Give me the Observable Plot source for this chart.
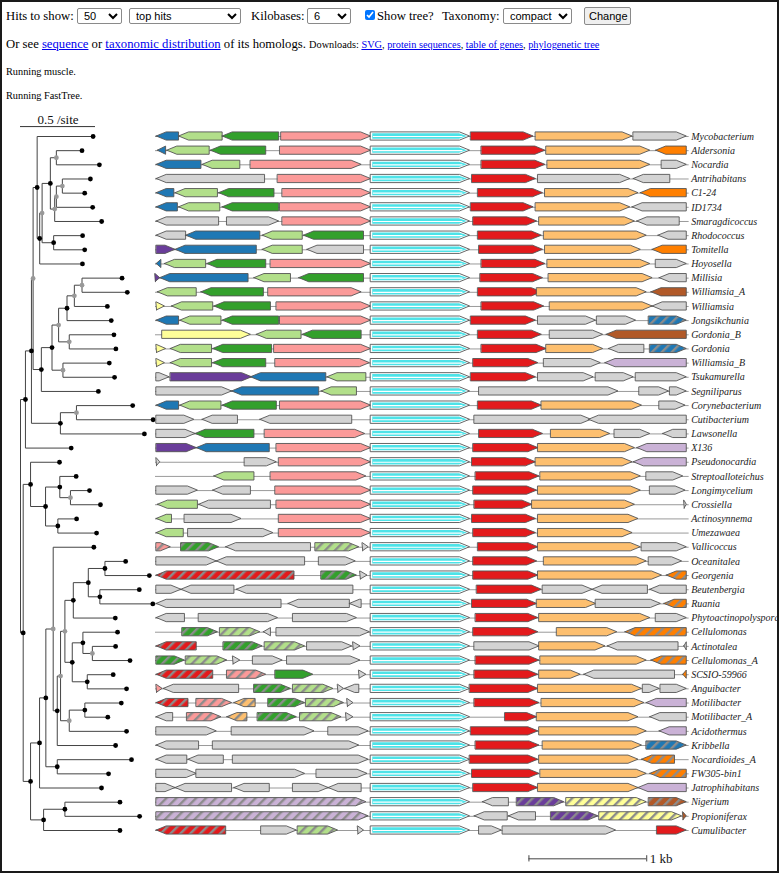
<!DOCTYPE html>
<html><head><meta charset="utf-8">
<script src="https://cdn.jsdelivr.net/npm/d3@7"></script>
<script src="https://cdn.jsdelivr.net/npm/@observablehq/plot@0.6"></script>
<style>
body{margin:0;background:#fff;}
#page{position:relative;width:779px;height:873px;overflow:hidden;font-family:"Liberation Serif","Times New Roman",serif;color:#000;background:#fff;}
#frame{position:absolute;left:0;top:0;width:779px;height:873px;box-sizing:border-box;border:2px solid #1a1a1a;pointer-events:none;z-index:5;}
.t{position:absolute;white-space:nowrap;font-size:12.7px;line-height:16px;}
.s{font-size:10.3px;}
a{color:#0000ee;text-decoration:underline;}
select,button{position:absolute;font-family:"Liberation Sans",Arial,sans-serif;font-size:11px;box-sizing:border-box;margin:0;padding:0 2px;background:#fff;border:1px solid #8a8a8a;border-radius:2px;color:#000;}
button{background:#efefef;border:1px solid #8a8a8a;padding:0 4px;}
input[type=checkbox]{position:absolute;margin:0;}
#tree,#genes{position:absolute;top:110px;}
#tree{left:0;} #genes{left:150px;}
</style></head>
<body>
<div id="page">
  <div class="t" style="left:6px;top:8px;">Hits to show:</div>
  <select style="left:77px;top:8px;width:45px;height:16px;"><option>50</option></select>
  <select style="left:129px;top:8px;width:112px;height:16px;"><option>top hits</option></select>
  <div class="t" style="left:251px;top:8px;">Kilobases:</div>
  <select style="left:307px;top:8px;width:44px;height:16px;"><option>6</option></select>
  <input type="checkbox" checked style="left:365px;top:10px;width:10px;height:10px;">
  <div class="t" style="left:377px;top:8px;">Show tree?</div>
  <div class="t" style="left:442px;top:8px;">Taxonomy:</div>
  <select style="left:503px;top:8px;width:69px;height:16px;"><option>compact</option></select>
  <button style="left:584px;top:7px;width:47px;height:18px;">Change</button>
  <div class="t" style="left:6px;top:36px;">Or see <a href="#">sequence</a> or <a href="#">taxonomic distribution</a> of its homologs. <span class="s">Downloads: <a href="#">SVG</a>, <a href="#">protein sequences</a>, <a href="#">table of genes</a>, <a href="#">phylogenetic tree</a></span></div>
  <div class="t s" style="left:6px;top:64px;">Running muscle.</div>
  <div class="t s" style="left:6px;top:88px;">Running FastTree.</div>
  <div id="tree"></div>
  <div id="genes"></div>
  <div id="frame"></div>
</div>
<script>
// ---------- DATA ----------
const genomes = ["Mycobacterium","Aldersonia","Nocardia","Antrihabitans","C1-24","ID1734","Smaragdicoccus","Rhodococcus","Tomitella","Hoyosella","Millisia","Williamsia_A","Williamsia","Jongsikchunia","Gordonia_B","Gordonia","Williamsia_B","Tsukamurella","Segniliparus","Corynebacterium","Cutibacterium","Lawsonella","X136","Pseudonocardia","Streptoalloteichus","Longimycelium","Crossiella","Actinosynnema","Umezawaea","Vallicoccus","Oceanitalea","Georgenia","Beutenbergia","Ruania","Phytoactinopolyspora","Cellulomonas","Actinotalea","Cellulomonas_A","SCSIO-59966","Anguibacter","Motilibacter","Motilibacter_A","Acidothermus","Kribbella","Nocardioides_A","FW305-bin1","Jatrophihabitans","Nigerium","Propioniferax","Cumulibacter"];

// gene colour keys (a trailing "/" means hatched)
const palette = {B:"#1f78b4",LG:"#b2df8a",DG:"#33a02c",P:"#fb9a99",R:"#e31a1c",O:"#fdbf6f",DO:"#ff7f00",L:"#cab2d6",PU:"#6a3d9a",Y:"#ffff99",BR:"#b15928",G:"#d3d3d3"};
const queryColor = "#4de3e8";
const windowKb = [0, 4.53];
const queryGene = [1.83, 2.67];
const scaleBarKb = 1;

// [start kb, end kb, strand, colour]
const genes = [
[[0.01,0.20,-1,"B"],[0.20,0.57,-1,"LG"],[0.57,1.05,-1,"DG"],[1.07,1.83,1,"P"],[2.68,3.21,1,"R"],[3.23,4.05,1,"O"],[4.06,4.51,1,"G"]],
[[0.02,0.09,-1,"B"],[0.10,0.46,-1,"LG"],[0.47,0.94,-1,"DG"],[1.06,1.83,1,"P"],[2.77,3.31,1,"R"],[3.32,4.20,1,"O"],[4.25,4.51,-1,"DO"]],
[[0.01,0.39,-1,"B"],[0.40,0.72,-1,"LG"],[0.81,1.75,1,"P"],[2.77,3.31,1,"R"],[3.33,4.20,1,"O"],[4.30,4.51,1,"G"]],
[[0.01,0.93,-1,"G"],[1.04,1.83,1,"P"],[2.69,3.23,1,"R"],[3.25,4.03,1,"G"],[4.06,4.37,-1,"G"]],
[[0.01,0.16,-1,"B"],[0.17,0.53,-1,"LG"],[0.54,1.01,-1,"DG"],[1.08,1.83,1,"P"],[2.74,3.29,1,"R"],[3.31,4.10,1,"O"],[4.12,4.51,-1,"DO"]],
[[0.01,0.19,-1,"B"],[0.20,0.55,-1,"LG"],[0.57,1.05,-1,"DG"],[1.06,1.83,1,"P"],[2.68,3.21,1,"R"],[3.23,4.03,1,"O"],[4.05,4.51,-1,"G"]],
[[0.01,0.54,-1,"G"],[0.61,1.05,1,"G"],[1.08,1.83,1,"P"],[2.70,3.24,1,"R"],[3.26,4.07,1,"O"],[4.09,4.45,-1,"G"]],
[[0.01,0.26,-1,"G"],[0.26,0.89,-1,"B"],[0.91,1.25,-1,"LG"],[1.26,1.77,-1,"DG"],[2.74,3.28,1,"R"],[3.30,4.17,1,"O"],[4.27,4.51,-1,"G"]],
[[0.01,0.17,1,"PU"],[0.17,0.86,-1,"B"],[0.91,1.25,-1,"LG"],[1.29,1.77,-1,"G"],[2.75,3.29,1,"R"],[3.31,4.12,1,"O"],[4.22,4.51,-1,"DO"]],
[[0.01,0.05,-1,"B"],[0.08,0.43,-1,"LG"],[0.44,0.94,-1,"DG"],[0.98,1.83,1,"P"],[2.77,3.31,1,"R"],[3.33,4.20,1,"O"],[4.25,4.51,1,"G"]],
[[0.00,0.04,1,"PU"],[0.04,0.79,-1,"B"],[0.84,1.15,-1,"LG"],[1.22,1.77,-1,"DG"],[2.76,3.29,1,"R"],[3.34,4.22,1,"O"],[4.28,4.51,-1,"G"]],
[[0.02,0.35,-1,"LG"],[0.39,0.92,-1,"DG"],[0.96,1.75,1,"P"],[2.74,3.28,1,"R"],[3.24,4.17,1,"O"],[4.21,4.51,-1,"BR"]],
[[0.01,0.08,1,"Y"],[0.14,0.49,-1,"LG"],[0.50,0.98,-1,"DG"],[1.03,1.83,1,"P"],[2.77,3.30,1,"R"],[3.35,4.22,1,"O"],[4.22,4.51,-1,"G"]],
[[0.01,0.20,-1,"B"],[0.21,0.56,-1,"LG"],[0.57,1.05,-1,"DG"],[1.06,1.83,1,"P"],[2.68,3.23,1,"R"],[3.25,3.74,1,"G"],[3.75,4.08,1,"G"],[4.19,4.51,1,"B/"]],
[[0.06,0.81,1,"Y"],[0.86,1.24,-1,"LG"],[1.25,1.75,-1,"DG"],[2.74,3.28,1,"R"],[3.35,3.80,1,"G"],[3.83,4.51,-1,"BR"]],
[[0.01,0.09,1,"Y"],[0.13,0.48,-1,"LG"],[0.49,0.99,-1,"DG"],[1.01,1.83,1,"P"],[2.77,3.32,1,"R"],[3.32,3.80,1,"O"],[3.85,4.15,-1,"G"],[4.20,4.51,1,"B/"]],
[[0.01,0.08,1,"Y"],[0.13,0.48,-1,"LG"],[0.49,0.94,-1,"DG"],[1.02,1.82,1,"P"],[2.70,3.25,1,"R"],[3.30,3.78,1,"G"],[3.82,4.51,-1,"L"]],
[[0.01,0.12,1,"G"],[0.13,0.82,1,"PU"],[0.81,1.45,-1,"B"],[1.46,1.79,-1,"LG"],[2.68,3.23,1,"R"],[3.25,3.72,1,"G"],[3.74,4.06,1,"G"],[4.08,4.51,1,"G"]],
[[0.01,0.65,1,"G"],[0.65,1.39,-1,"B"],[1.41,1.71,-1,"LG"],[2.75,3.93,1,"G"],[4.11,4.36,1,"G"],[4.37,4.51,1,"G"]],
[[0.01,0.20,-1,"B"],[0.21,0.56,-1,"LG"],[0.57,1.03,-1,"DG"],[1.06,1.83,1,"P"],[2.74,3.28,1,"R"],[3.28,4.13,1,"O"],[4.28,4.50,1,"G"]],
[[0.01,0.33,1,"G"],[0.40,0.70,-1,"G"],[0.89,1.67,-1,"G"],[2.71,3.70,1,"G"],[3.68,4.51,-1,"G"]],
[[0.01,0.34,1,"G"],[0.34,0.84,-1,"DG"],[0.93,1.78,1,"P"],[2.75,3.29,1,"R"],[3.36,3.86,1,"O"],[3.90,4.20,1,"G"],[4.31,4.51,-1,"G"]],
[[0.01,0.35,1,"PU"],[0.35,0.97,-1,"B"],[1.03,1.83,1,"P"],[2.70,3.25,1,"R"],[3.25,4.07,1,"O"],[4.09,4.51,-1,"L"]],
[[0.01,0.04,1,"G"],[0.76,1.03,1,"G"],[1.05,1.83,1,"P"],[2.69,3.23,1,"R"],[3.23,4.05,1,"O"],[4.06,4.51,-1,"L"]],
[[0.50,0.84,-1,"LG"],[0.98,1.79,1,"P"],[2.72,3.26,1,"R"],[3.27,4.12,1,"O"],[4.17,4.48,1,"G"]],
[[0.01,0.36,1,"G"],[0.49,0.81,-1,"G"],[1.02,1.83,1,"P"],[2.70,3.24,1,"R"],[3.25,4.12,1,"O"],[4.20,4.50,1,"G"]],
[[0.02,0.36,-1,"LG"],[0.37,0.98,-1,"G"],[1.03,1.83,1,"P"],[2.71,3.20,1,"R"],[3.20,4.07,1,"O"],[4.49,4.51,1,"G"]],
[[0.01,0.14,-1,"LG"],[0.25,0.73,1,"G"],[1.05,1.83,1,"P"],[2.69,3.23,1,"R"],[3.25,4.10,1,"O"]],
[[0.01,0.24,-1,"LG"],[0.28,1.00,1,"G"],[1.05,1.83,1,"P"],[2.70,3.23,1,"R"],[3.25,4.05,1,"O"]],
[[0.01,0.13,1,"P/"],[0.22,0.54,1,"DG/"],[0.60,1.32,-1,"G"],[1.36,1.73,1,"LG/"],[1.76,1.81,1,"G"],[2.74,3.25,1,"R"],[3.25,4.12,1,"O"],[4.13,4.51,1,"G"]],
[[0.01,0.52,1,"G"],[0.52,1.27,-1,"G"],[1.39,1.70,1,"G"],[2.70,3.24,1,"R"],[3.30,4.17,1,"O"],[4.19,4.47,1,"G"]],
[[0.01,1.18,-1,"R/"],[1.41,1.71,1,"DG/"],[1.74,1.80,1,"G"],[2.70,3.25,1,"R"],[3.25,4.30,1,"O"],[4.34,4.51,-1,"DO/"]],
[[0.01,0.22,1,"G"],[0.22,0.67,-1,"G"],[0.69,1.68,-1,"G"],[2.73,3.28,1,"R"],[3.29,3.71,1,"G"],[3.71,4.18,-1,"G"],[4.20,4.51,-1,"G"]],
[[0.01,1.07,-1,"G"],[1.13,1.65,-1,"G"],[1.65,1.75,-1,"G"],[2.69,3.24,1,"R"],[3.24,3.74,1,"O"],[3.74,4.29,1,"G"],[4.32,4.51,-1,"DO/"]],
[[0.01,0.25,-1,"G"],[0.37,1.04,1,"G"],[1.17,1.71,1,"G"],[2.72,3.25,1,"R"],[3.26,4.20,1,"O"],[4.25,4.51,1,"G"]],
[[0.23,0.53,1,"DG/"],[0.55,0.89,1,"LG/"],[0.92,0.98,-1,"G"],[1.03,1.82,1,"G"],[2.70,3.25,1,"R"],[3.41,3.92,1,"O"],[3.99,4.51,-1,"DO/"]],
[[0.01,0.35,-1,"R/"],[0.58,0.91,1,"DG/"],[0.93,1.27,1,"LG/"],[1.29,1.67,1,"G"],[1.68,1.74,1,"G"],[2.71,3.26,1,"G"],[3.26,3.82,1,"O"],[3.84,4.44,-1,"G"],[4.49,4.51,-1,"G"]],
[[0.01,0.25,1,"DG/"],[0.26,0.61,1,"LG/"],[0.66,0.72,1,"G"],[0.83,1.08,1,"G"],[1.12,1.74,1,"G"],[2.72,3.26,1,"R"],[3.27,4.17,1,"O"],[4.21,4.51,-1,"DO/"]],
[[0.01,0.49,-1,"R/"],[0.61,0.94,1,"P/"],[1.02,1.34,1,"DG"],[1.73,1.79,1,"G"],[2.71,3.25,1,"R"],[3.26,3.61,1,"O"],[3.64,4.41,-1,"G"],[4.48,4.51,-1,"DO"]],
[[0.01,0.06,1,"P"],[0.07,0.71,-1,"G"],[0.84,1.15,1,"DG/"],[1.17,1.51,1,"LG/"],[1.55,1.60,1,"G"],[1.61,1.73,-1,"G"],[2.67,3.25,1,"R"],[3.25,4.13,1,"O"],[4.14,4.28,1,"G"],[4.29,4.51,1,"G"]],
[[0.01,0.28,-1,"R/"],[0.35,0.65,1,"P/"],[0.67,0.85,-1,"O/"],[0.96,1.27,1,"DG/"],[1.28,1.60,1,"LG/"],[1.63,1.68,1,"G"],[2.71,3.26,1,"R"],[3.28,4.15,1,"O"],[4.17,4.51,-1,"L"]],
[[0.01,0.15,-1,"G"],[0.27,0.56,1,"P/"],[0.61,0.78,-1,"O/"],[0.87,1.20,1,"DG/"],[1.23,1.58,1,"LG/"],[1.62,1.68,1,"G"],[2.97,3.24,1,"R"],[3.24,4.10,1,"O"],[4.20,4.51,-1,"G"]],
[[0.01,0.52,1,"G"],[0.65,1.35,1,"G"],[1.47,1.81,1,"G"],[2.68,3.25,1,"R"],[3.26,4.17,1,"O"],[4.28,4.51,-1,"L"]],
[[0.01,0.37,-1,"G"],[0.49,1.73,1,"G"],[2.72,3.26,1,"R"],[3.29,4.13,1,"O"],[4.17,4.51,1,"B/"]],
[[0.01,0.27,-1,"G"],[0.28,0.58,-1,"G"],[0.66,1.81,1,"G"],[2.67,3.25,1,"R"],[3.26,4.10,1,"O"],[4.13,4.41,-1,"DO/"]],
[[0.01,0.35,1,"G"],[0.35,1.27,1,"G"],[1.37,1.80,1,"G"],[2.69,3.26,1,"R"],[3.27,4.17,1,"O"],[4.20,4.51,-1,"DO/"]],
[[0.01,0.17,1,"G"],[0.17,0.65,-1,"G"],[0.67,0.97,-1,"G"],[1.17,1.47,1,"G"],[1.47,1.75,-1,"G"],[2.70,3.25,1,"R"],[3.25,4.10,1,"O"],[4.10,4.51,-1,"L"]],
[[0.01,1.79,1,"L/"],[2.78,3.00,-1,"G"],[3.07,3.47,1,"PU/"],[3.49,4.17,1,"Y/"],[4.19,4.51,1,"BR/"]],
[[0.01,1.81,1,"L/"],[2.71,2.99,-1,"G"],[3.00,3.23,-1,"G"],[3.36,3.76,1,"PU/"],[3.77,4.47,1,"Y/"],[4.48,4.51,1,"BR"]],
[[0.01,0.60,-1,"R/"],[0.90,1.20,1,"G"],[1.21,1.55,1,"LG/"],[1.72,1.77,1,"G"],[2.75,2.94,1,"G"],[2.95,3.91,1,"G"],[4.26,4.51,1,"R"]]
];

// phylogenetic tree (Newick, support:branch length in substitutions/site)
const cladeMyco = "(Mycobacterium:0.373,((((Aldersonia:0.171,Nocardia:0.287)0.5:0.04,(((Antrihabitans:0.187,C1-24:0.149)0.5:0.04,ID1734:0.242)0.5:0.011,Smaragdicoccus:0.313)0.5:0.029)0.9:0.055,(Rhodococcus:0.193,Tomitella:0.207)0.9:0.077)0.5:0.016,Hoyosella:0.285)0.9:0.017)0.9:0.027";
const cladeGord = "((((((Millisia:0.267,Williamsia_A:0.302)0.5:0.051,Williamsia:0.22)0.5:0.049,Jongsikchunia:0.295)0.9:0.056,(Gordonia_B:0.298,Gordonia:0.311)0.5:0.071)0.5:0.044,(Williamsia_B:0.309,Tsukamurella:0.344)0.5:0.073)0.9:0.071,Segniliparus:0.38)0.9:0.055";
const cladeCory = "((Corynebacterium:0.375,Cutibacterium:0.511)0.5:0.107,Lawsonella:0.56)0.9:0.193";
const cladePseudo = "(Pseudonocardia:0.193,((Streptoalloteichus:0.109,(Longimycelium:0.127,Crossiella:0.2)0.5:0.071)0.9:0.095,(Actinosynnema:0.125,Umezawaea:0.258)0.9:0.082)0.9:0.1)0.9:0.049";
const cladeMicro = "(((Oceanitalea:0.138,Georgenia:0.296)0.9:0.111,(Beutenbergia:0.263,Ruania:0.353)0.9:0.077)0.9:0.1,Phytoactinopolyspora:0.28)0.9:0.056";
const cladeCellu = "((Cellulomonas:0.231,(Actinotalea:0.155,Cellulomonas_A:0.251)0.5:0.063)0.9:0.071,(SCSIO-59966:0.173,Anguibacter:0.262)0.9:0.1)0.9:0.049";
const cladeMotil = "((Motilibacter:0.243,Motilibacter_A:0.153)0.9:0.104,Acidothermus:0.382)0.5:0.058";
const cladeProp = "((Nigerium:0.367,Propioniferax:0.498)0.9:0.142,Cumulibacter:0.509)0.9:0.087";
const cladeUpper = `(((${cladeMyco},${cladeGord})0.5:0.011,${cladeCory})0.9:0.04,X136:0.305)0.9:0.033`;
const cladeLowerY = `((((Vallicoccus:0.271,(((${cladeMicro},${cladeCellu})0.5:0.029,${cladeMotil})0.5:0.022,Kribbella:0.389)0.9:0.027)0.5:0.049,(Nocardioides_A:0.495,FW305-bin1:0.342)0.9:0.076)0.9:0.042,Jatrophihabitans:0.413)0.9:0.06,${cladeProp})0.9:0.049`;
const newick = `(${cladeUpper},(${cladePseudo},${cladeLowerY})0.9:0.018);`;
const treeScale = {value: 0.5, label: "0.5 /site"};

// ---------- TREE ----------
function parseNewick(s) {
  let i = 0;
  function node() {
    const n = {children: []};
    if (s[i] === "(") {
      i++;
      n.children.push(node());
      while (s[i] === ",") { i++; n.children.push(node()); }
      i++;
    }
    let name = "";
    while (i < s.length && !",():;".includes(s[i])) name += s[i++];
    n.name = name;
    n.length = 0;
    if (s[i] === ":") {
      i++; let l = "";
      while (i < s.length && !",();".includes(s[i])) l += s[i++];
      n.length = +l;
    }
    return n;
  }
  return node();
}
const root = parseNewick(newick);
const tips = [], inner = [], branches = [], verticals = [];
let leafIdx = 0;
(function walk(n, depth, parent) {
  n.x = depth;
  if (!n.children.length) { n.y = leafIdx++; tips.push(n); }
  else {
    n.children.forEach(c => walk(c, depth + c.length, n));
    n.y = (n.children[0].y + n.children[n.children.length - 1].y) / 2;
    verticals.push({x: n.x, y1: n.children[0].y, y2: n.children[n.children.length - 1].y});
    if (parent) inner.push(n);
  }
  if (parent) branches.push({x1: parent.x, x2: n.x, y: n.y});
})(root, 0, null);

const Y = {domain: [0, genomes.length - 1], range: [26, 720], axis: null};
const treePlot = Plot.plot({
  width: 160, height: 760,
  style: {background: "transparent", overflow: "visible", fontFamily: "Liberation Serif, serif"},
  x: {domain: [0, 1], range: [20, 170], axis: null},
  y: Y,
  marks: [
    Plot.link(branches, {x1: "x1", x2: "x2", y1: "y", y2: "y", stroke: "#444", strokeWidth: 1}),
    Plot.link(verticals, {x1: "x", x2: "x", y1: "y1", y2: "y2", stroke: "#444", strokeWidth: 1}),
    Plot.dot(inner, {x: "x", y: "y", r: 2.4, fill: d => (+d.name >= 0.7 ? "#000" : "#999")}),
    Plot.dot(tips, {x: "x", y: "y", r: 2.4, fill: "#000"}),
    Plot.ruleY([-0.7], {x1: 0, x2: treeScale.value, stroke: "#333", strokeWidth: 1}),
    Plot.text([treeScale], {x: treeScale.value / 2, y: -0.7, dy: -7, text: "label", fontSize: 13, fill: "#111"})
  ]
});
document.getElementById("tree").appendChild(treePlot);

// ---------- GENES ----------
const PXKB = 117.8;
const HEAD = 10 / PXKB;
const HALF = 0.29;
function arrow(row, s, e, dir, head, half) {
  const h = Math.min(head, e - s);
  return dir > 0
    ? [{x: s, y1: row - half, y2: row + half}, {x: e - h, y1: row - half, y2: row + half}, {x: e, y1: row, y2: row}]
    : [{x: s, y1: row, y2: row}, {x: s + h, y1: row - half, y2: row + half}, {x: e, y1: row - half, y2: row + half}];
}
const shapes = [];
genes.forEach((row, r) => row.forEach((g, k) => {
  const key = g[3], hatched = key.endsWith("/"), base = key.replace("/", "");
  const fill = hatched ? `url(#hatch-${base})` : palette[base];
  arrow(r, g[0], g[1], g[2], HEAD, HALF).forEach(p => shapes.push({...p, id: `${r}-${k}`, fill}));
}));
const qOuter = [], qInner = [];
genomes.forEach((_, r) => {
  arrow(r, queryGene[0], queryGene[1], 1, HEAD, HALF).forEach(p => qOuter.push({...p, id: r}));
  arrow(r, queryGene[0] + 0.014, queryGene[1] - 0.022, 1, HEAD * 0.8, 0.19).forEach(p => qInner.push({...p, id: r}));
});
const rows = genomes.map((name, i) => ({name, i}));
const sbY = genomes.length + 1;
const sbX2 = windowKb[1] - 0.36;
const sbX1 = sbX2 - scaleBarKb;

const genePlot = Plot.plot({
  width: 629, height: 760,
  style: {background: "transparent", overflow: "visible", fontFamily: "Liberation Serif, serif"},
  x: {domain: windowKb, range: [5, 5 + PXKB * (windowKb[1] - windowKb[0])], axis: null},
  y: Y,
  color: {type: "identity"},
  marks: [
    Plot.ruleY(rows, {y: "i", x1: windowKb[0], x2: windowKb[1], stroke: "#9a9a9a", strokeWidth: 1}),
    Plot.areaY(shapes, {x: "x", y1: "y1", y2: "y2", z: "id", fill: "fill", stroke: "#555", strokeWidth: 0.9, curve: "linear"}),
    Plot.areaY(qOuter, {x: "x", y1: "y1", y2: "y2", z: "id", fill: "white", stroke: "#555", strokeWidth: 0.9, curve: "linear"}),
    Plot.areaY(qInner, {x: "x", y1: "y1", y2: "y2", z: "id", fill: queryColor, curve: "linear"}),
    Plot.ruleY(rows, {y: "i", x1: queryGene[0] + 0.02, x2: queryGene[1] - 0.06, stroke: "white", strokeWidth: 1.2}),
    Plot.text(rows, {x: windowKb[1], y: "i", text: "name", dx: 2, textAnchor: "start", fontStyle: "italic", fontSize: 10, fill: "#222"}),
    Plot.ruleY([sbY], {x1: sbX1, x2: sbX2, stroke: "#444", strokeWidth: 1}),
    Plot.ruleX([sbX1, sbX2], {y1: sbY - 0.22, y2: sbY + 0.22, stroke: "#444", strokeWidth: 1}),
    Plot.text([`${scaleBarKb} kb`], {x: sbX2, y: sbY, dx: 3, textAnchor: "start", fontSize: 13, fill: "#111"})
  ]
});
// hatch patterns
const NS = "http://www.w3.org/2000/svg";
const defs = document.createElementNS(NS, "defs");
Object.entries(palette).forEach(([k, c]) => {
  const pat = document.createElementNS(NS, "pattern");
  pat.setAttribute("id", `hatch-${k}`);
  pat.setAttribute("patternUnits", "userSpaceOnUse");
  pat.setAttribute("width", "7"); pat.setAttribute("height", "7");
  pat.setAttribute("patternTransform", "rotate(45)");
  const bg = document.createElementNS(NS, "rect");
  bg.setAttribute("width", "7"); bg.setAttribute("height", "7"); bg.setAttribute("fill", c);
  const st = document.createElementNS(NS, "rect");
  st.setAttribute("width", "2.4"); st.setAttribute("height", "7"); st.setAttribute("fill", "#8c8c8c");
  pat.appendChild(bg); pat.appendChild(st); defs.appendChild(pat);
});
genePlot.insertBefore(defs, genePlot.firstChild);
document.getElementById("genes").appendChild(genePlot);
</script>
</body></html>
